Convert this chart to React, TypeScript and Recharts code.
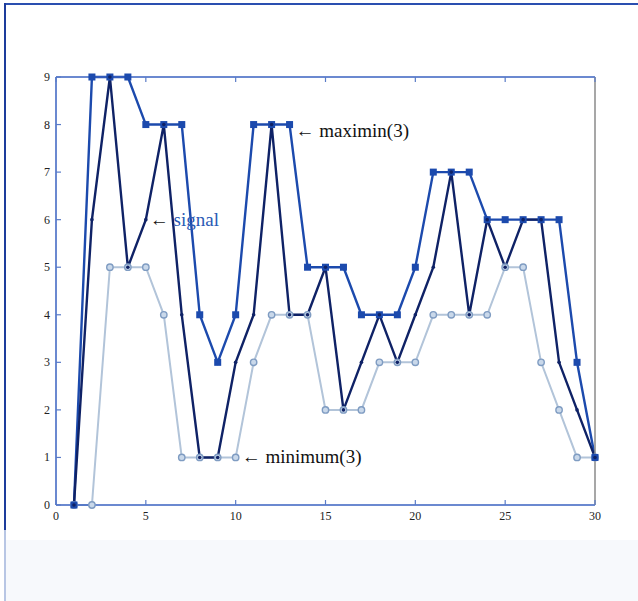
import React from 'react';
import { LineChart, Line, XAxis, YAxis, ReferenceDot } from 'recharts';

const xValues = [1,2,3,4,5,6,7,8,9,10,11,12,13,14,15,16,17,18,19,20,21,22,23,24,25,26,27,28,29,30];
const signal = [0,6,9,5,6,8,4,1,1,3,4,8,4,4,5,2,3,4,3,4,5,7,4,6,5,6,6,3,2,1];
const maximin = [0,9,9,9,8,8,8,4,3,4,8,8,8,5,5,5,4,4,4,5,7,7,7,6,6,6,6,6,3,1];
const minimum = [0,0,5,5,5,4,1,1,1,1,3,4,4,4,2,2,2,3,3,3,4,4,4,4,5,5,3,2,1,1];
const xTicks = [0,5,10,15,20,25,30];
const yTicks = [0,1,2,3,4,5,6,7,8,9];

const data = xValues.map((x, i) => ({ x, signal: signal[i], maximin: maximin[i], minimum: minimum[i] }));

const FONT = '"Liberation Serif", "DejaVu Serif", serif';
const AXIS_BLUE = '#3a62c0';
const TICK_COLOR = '#5a7cc8';

const BottomTick = (p: any) => (
  <g>
    <line x1={p.x} x2={p.x} y1={p.y} y2={p.y - 5} stroke={TICK_COLOR} strokeWidth={1.2} />
    <text x={p.x} y={p.y + 15} textAnchor="middle" fontFamily={FONT} fontSize={12} fill="#222">{p.payload.value}</text>
  </g>
);
const TopTick = (p: any) => (
  <line x1={p.x} x2={p.x} y1={p.y} y2={p.y + 5} stroke={TICK_COLOR} strokeWidth={1.2} />
);
const LeftTick = (p: any) => (
  <g>
    <line x1={p.x} x2={p.x + 5} y1={p.y} y2={p.y} stroke={TICK_COLOR} strokeWidth={1.2} />
    <text x={p.x - 6} y={p.y + 4} textAnchor="end" fontFamily={FONT} fontSize={12} fill="#222">{p.payload.value}</text>
  </g>
);
const RightTick = (p: any) => (
  <line x1={p.x} x2={p.x - 5} y1={p.y} y2={p.y} stroke="#999" strokeWidth={1.2} />
);

const SquareDot = (p: any) => {
  if (p.cx == null || p.cy == null) return null;
  return <rect key={p.index} x={p.cx - 3.5} y={p.cy - 3.5} width={7} height={7} fill="#1c4aad" />;
};
const MinDot = (p: any) => {
  if (p.cx == null || p.cy == null) return null;
  return <circle key={p.index} cx={p.cx} cy={p.cy} r={3.2} fill="#c9d8ea" stroke="#7f9cc2" strokeWidth={1.4} />;
};
const SigDot = (p: any) => {
  if (p.cx == null || p.cy == null) return null;
  return <circle key={p.index} cx={p.cx} cy={p.cy} r={1.8} fill="#0f2266" />;
};

const Note = (dx: number, dy: number, label: string, color: string) => (p: any) => (
  <text x={p.cx + dx} y={p.cy + dy} fontFamily={FONT} fontSize={19} fill="#111">
    {'\u2190 '}<tspan fill={color}>{label}</tspan>
  </text>
);

export default function App() {
  return (
    <div style={{ position: 'absolute', left: 0, top: 0, width: 638, height: 601, background: '#fff', overflow: 'hidden' }}>
      <div style={{ position: 'absolute', left: 4, top: 3, width: 634, height: 2, background: '#2a4fb0' }} />
      <div style={{ position: 'absolute', left: 4, top: 3, width: 2, height: 527, background: '#1d3c9c' }} />
      <div style={{ position: 'absolute', left: 4, top: 530, width: 2, height: 71, background: '#b8c6e4' }} />
      <div style={{ position: 'absolute', left: 6, top: 540, width: 632, height: 61, background: '#f7f9fc' }} />
      <LineChart width={638} height={601} data={data} margin={{ top: 67, right: 33, bottom: 66, left: 26 }}>
        <XAxis dataKey="x" type="number" domain={[0, 30]} ticks={xTicks} interval={0}
          axisLine={{ stroke: AXIS_BLUE, strokeWidth: 1.5 }} tickLine={false} tickSize={0} tickMargin={0}
          height={30} tick={BottomTick} />
        <XAxis xAxisId="top" orientation="top" dataKey="x" type="number" domain={[0, 30]} ticks={xTicks} interval={0}
          axisLine={{ stroke: AXIS_BLUE, strokeWidth: 1.5 }} tickLine={false} tickSize={0} tickMargin={0}
          height={10} tick={TopTick} />
        <YAxis type="number" domain={[0, 9]} ticks={yTicks} interval={0}
          axisLine={{ stroke: AXIS_BLUE, strokeWidth: 1.5 }} tickLine={false} tickSize={0} tickMargin={0}
          width={30} tick={LeftTick} />
        <YAxis yAxisId="right" orientation="right" type="number" domain={[0, 9]} ticks={yTicks} interval={0}
          axisLine={{ stroke: '#8a8a8a', strokeWidth: 1.5 }} tickLine={false} tickSize={0} tickMargin={0}
          width={10} tick={RightTick} />
        <Line dataKey="minimum" stroke="#b2c4d9" strokeWidth={2} dot={MinDot} isAnimationActive={false} />
        <Line dataKey="maximin" stroke="#1c4aad" strokeWidth={2.4} dot={SquareDot} isAnimationActive={false} />
        <Line dataKey="signal" stroke="#0f2266" strokeWidth={2.4} dot={SigDot} isAnimationActive={false} />
        <ReferenceDot x={5} y={6} r={0} shape={Note(4, 6, 'signal', '#2a5ab5')} />
        <ReferenceDot x={13} y={8} r={0} shape={Note(6, 12, 'maximin(3)', '#111')} />
        <ReferenceDot x={10} y={1} r={0} shape={Note(6, 6, 'minimum(3)', '#111')} />
      </LineChart>
    </div>
  );
}
